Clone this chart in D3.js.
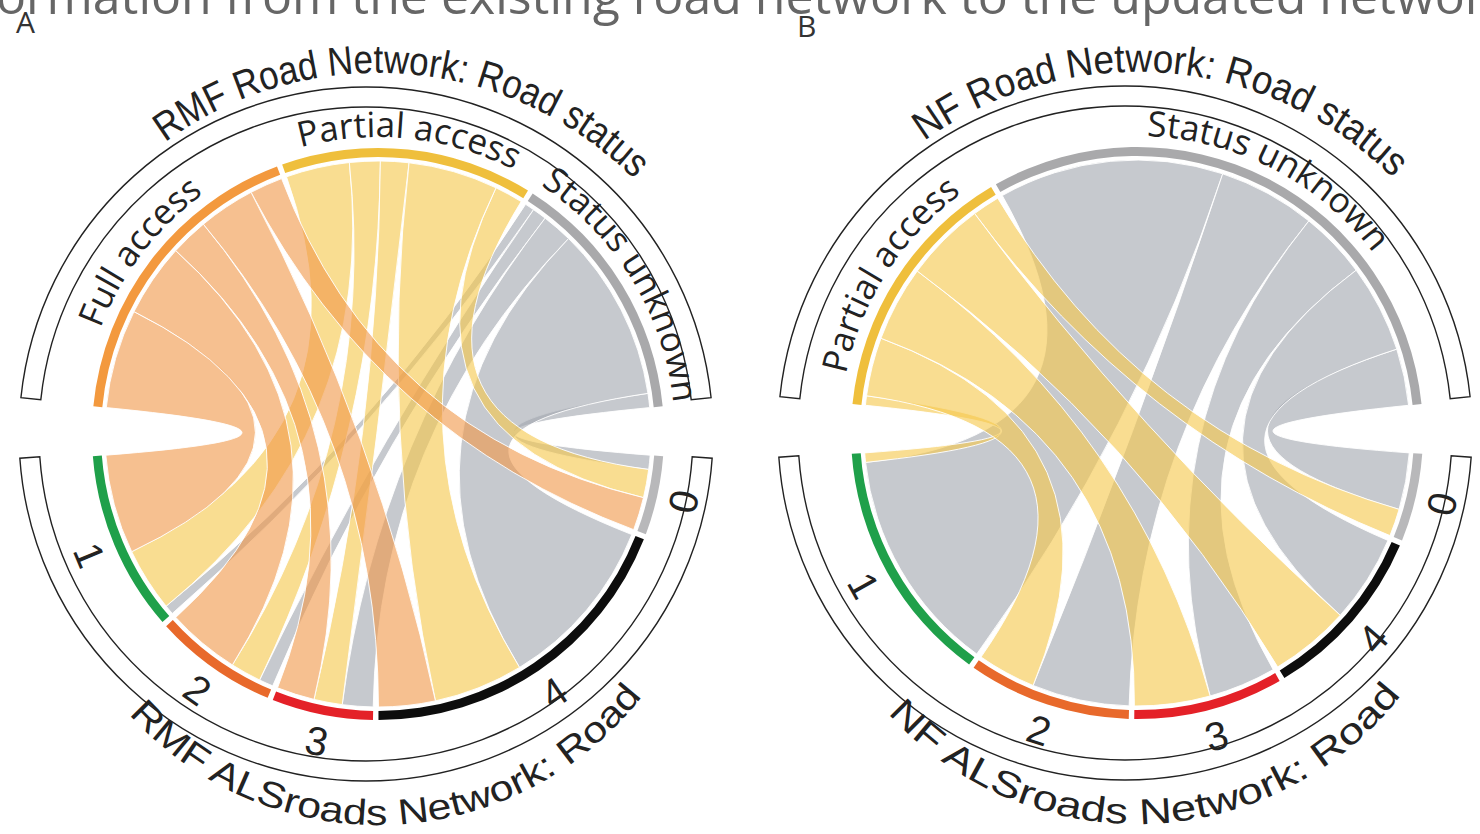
<!DOCTYPE html>
<html>
<head>
<meta charset="utf-8">
<script src="https://cdn.jsdelivr.net/npm/d3@7"></script>
<style>
body { margin: 0; background: #fff; }
</style>
</head>
<body>
<div id="chart"></div>
<script>
// road classes in the ALSroads network, indexed 0..4
const roadClasses = ["0", "1", "2", "3", "4"];
// clockwise order of the classes around the lower half
const bottomOrder = [0, 4, 3, 2, 1];
// order of the links inside a status sector (left to right)
const topSubOrder = [1, 2, 3, 4, 0];

// panel A: RMF road status -> class 0..4
const statusA = ["Full access", "Partial access", "Status unknown"];
const fullA = [7, 21, 15.5, 8, 12];
const partialA = [6, 13.5, 6.5, 6, 19];
const unknownA = [3, 2, 3, 6.5, 37];

// panel B: NF road status -> class 0..4
const statusB = ["Partial access", "Status unknown"];
const partialB = [5.8, 2, 12.4, 16, 17];
const unknownB = [12, 47.6, 20.6, 14.3, 18.6];

const sectorColor = {
  "Full access": "#f3993e",
  "Partial access": "#efbf3c",
  "Status unknown": "#a9a9ab",
  "0": "#b8b8ba",
  "1": "#1fa04a",
  "2": "#e8692b",
  "3": "#e42128",
  "4": "#0d0d0d"
};
const ribbonColor = {
  "Full access": "#f0994c",
  "Partial access": "#f6c84e",
  "Status unknown": "#a3a8b0"
};

const w = 1480, h = 834;
const rad = d => d * Math.PI / 180;
const narrow = "'Liberation Sans Narrow', 'Arial Narrow', 'Liberation Sans', sans-serif";

const svg = d3.select("#chart")
  .append("svg")
  .attr("width", w)
  .attr("height", h);

// figure caption cut by the top edge
svg.append("text")
  .attr("x", -4)
  .attr("y", 14)
  .attr("font-family", "Open Sans")
  .attr("font-size", 50)
  .attr("fill", "#666")
  .text("ormation from the existing road network to the updated network");

svg.append("text").attr("x", 16).attr("y", 33)
  .attr("font-family", "Open Sans").attr("font-size", 30).attr("fill", "#333")
  .text("A");
svg.append("text").attr("x", 797).attr("y", 37)
  .attr("font-family", "Open Sans").attr("font-size", 30).attr("fill", "#333")
  .text("B");

function arcPath(r, a0, a1, ccw, ox, oy) {
  const p = d3.path();
  p.arc(ox || 0, oy || 0, r, a0 - Math.PI / 2, a1 - Math.PI / 2, ccw);
  return p.toString();
}

function drawPanel(id, cx, cy, statuses, flows, topTitle, bottomTitle) {
  const g = svg.append("g").attr("transform", "translate(" + cx + "," + cy + ")");
  const nTop = statuses.length, nBot = bottomOrder.length;
  const total = d3.sum(flows, d => d3.sum(d));
  const gap = rad(1.1), bigGap = rad(10);
  const k = (2 * Math.PI - 2 * bigGap - (nTop - 1 + nBot - 1) * gap) / (2 * total);
  const angle = d3.scaleLinear().domain([0, total]).range([0, k * total]);
  const topSpan = angle(total) + (nTop - 1) * gap;
  const botSpan = angle(total) + (nBot - 1) * gap;

  const rIn = 277, rOut = 286, rRib = 273;

  // upper sectors (road status)
  const topGroups = [];
  let a = -topSpan / 2;
  statuses.forEach((s, i) => {
    const a0 = a, subs = {};
    topSubOrder.forEach(c => {
      const v = angle(flows[i][c]);
      subs[c] = [a, a + v];
      a += v;
    });
    topGroups.push({ name: s, startAngle: a0, endAngle: a, subs: subs });
    a += gap;
  });

  // lower sectors (road class)
  const botGroups = [];
  a = Math.PI - botSpan / 2;
  bottomOrder.forEach(c => {
    const a0 = a, subs = {};
    d3.range(nTop).reverse().forEach(i => {
      const v = angle(flows[i][c]);
      subs[i] = [a, a + v];
      a += v;
    });
    botGroups[c] = { name: roadClasses[c], startAngle: a0, endAngle: a, subs: subs };
    a += gap;
  });

  // outer brackets (drawn a little left of the circle centre, as in the figure)
  const bracket = d3.arc().innerRadius(327).outerRadius(347);
  const br = g.append("g").attr("transform", "translate(-12,0)");
  br.append("path")
    .attr("d", bracket({ startAngle: rad(-84), endAngle: rad(84) }))
    .attr("fill", "#fff").attr("stroke", "#222").attr("stroke-width", 1.4);
  br.append("path")
    .attr("d", bracket({ startAngle: rad(94), endAngle: rad(266) }))
    .attr("fill", "#fff").attr("stroke", "#222").attr("stroke-width", 1.4);

  // links
  const ribbon = d3.ribbon().radius(rRib);
  const links = [];
  d3.range(nTop).reverse().forEach(i => {
    roadClasses.forEach((name, c) => {
      if (flows[i][c] <= 0) return;
      links.push({
        status: statuses[i],
        source: { startAngle: topGroups[i].subs[c][0], endAngle: topGroups[i].subs[c][1] },
        target: { startAngle: botGroups[c].subs[i][0], endAngle: botGroups[c].subs[i][1] }
      });
    });
  });
  g.selectAll("path.link")
    .data(links)
    .enter()
    .append("path")
    .attr("class", "link")
    .attr("d", ribbon)
    .attr("fill", d => ribbonColor[d.status])
    .attr("fill-opacity", 0.62)
    .attr("stroke", "#fff")
    .attr("stroke-width", 1)
    .attr("stroke-opacity", 0.9);

  // sector arcs
  const sector = d3.arc().innerRadius(rIn).outerRadius(rOut);
  g.selectAll("path.top")
    .data(topGroups)
    .enter()
    .append("path")
    .attr("class", "top")
    .attr("d", sector)
    .attr("fill", d => sectorColor[d.name]);
  g.selectAll("path.bot")
    .data(botGroups)
    .enter()
    .append("path")
    .attr("class", "bot")
    .attr("d", sector)
    .attr("fill", d => sectorColor[d.name]);

  // status labels bent along the arc
  topGroups.forEach((d, i) => {
    const mid = (d.startAngle + d.endAngle) / 2;
    g.append("path")
      .attr("id", id + "lab" + i)
      .attr("d", arcPath(297, mid - rad(80), mid + rad(80), false))
      .attr("fill", "none");
    g.append("text")
      .attr("font-family", "Open Sans")
      .attr("font-size", 35)
      .attr("fill", "#222")
      .append("textPath")
      .attr("href", "#" + id + "lab" + i)
      .attr("startOffset", "50%")
      .attr("text-anchor", "middle")
      .text(d.name);
  });

  // class labels
  botGroups.forEach(d => {
    const mid = (d.startAngle + d.endAngle) / 2;
    const r = 313;
    g.append("text")
      .attr("transform", "translate(" + (r * Math.sin(mid)) + "," + (-r * Math.cos(mid)) + ") rotate(" + (mid * 180 / Math.PI - 180) + ")")
      .attr("text-anchor", "middle")
      .attr("dominant-baseline", "central")
      .attr("font-family", "'Liberation Sans', Arial, sans-serif")
      .attr("font-size", 40)
      .attr("fill", "#222")
      .text(d.name);
  });

  // titles
  g.append("path").attr("id", id + "tt")
    .attr("d", arcPath(361, rad(4.5 - 90), rad(4.5 + 90), false)).attr("fill", "none");
  g.append("text")
    .attr("font-family", narrow)
    .attr("font-size", 40)
    .attr("fill", "#222")
    .append("textPath")
    .attr("href", "#" + id + "tt")
    .attr("startOffset", "50%")
    .attr("text-anchor", "middle")
    .attr("textLength", 512)
    .attr("lengthAdjust", "spacingAndGlyphs")
    .text(topTitle);

  // lower title follows a flatter curve than the brackets
  g.append("path").attr("id", id + "bt")
    .attr("d", arcPath(335, rad(178 + 90), rad(178 - 90), true, 0, 56)).attr("fill", "none");
  g.append("text")
    .attr("font-family", narrow)
    .attr("font-size", 36)
    .attr("fill", "#222")
    .append("textPath")
    .attr("href", "#" + id + "bt")
    .attr("startOffset", "50%")
    .attr("text-anchor", "middle")
    .attr("textLength", 585)
    .attr("lengthAdjust", "spacingAndGlyphs")
    .text(bottomTitle);
}

drawPanel("A", 378, 434, statusA, [fullA, partialA, unknownA],
  "RMF Road Network: Road status", "RMF ALSroads Network: Road");
drawPanel("B", 1137, 433, statusB, [partialB, unknownB],
  "NF Road Network: Road status", "NF ALSroads Network: Road");
</script>
</body>
</html>
